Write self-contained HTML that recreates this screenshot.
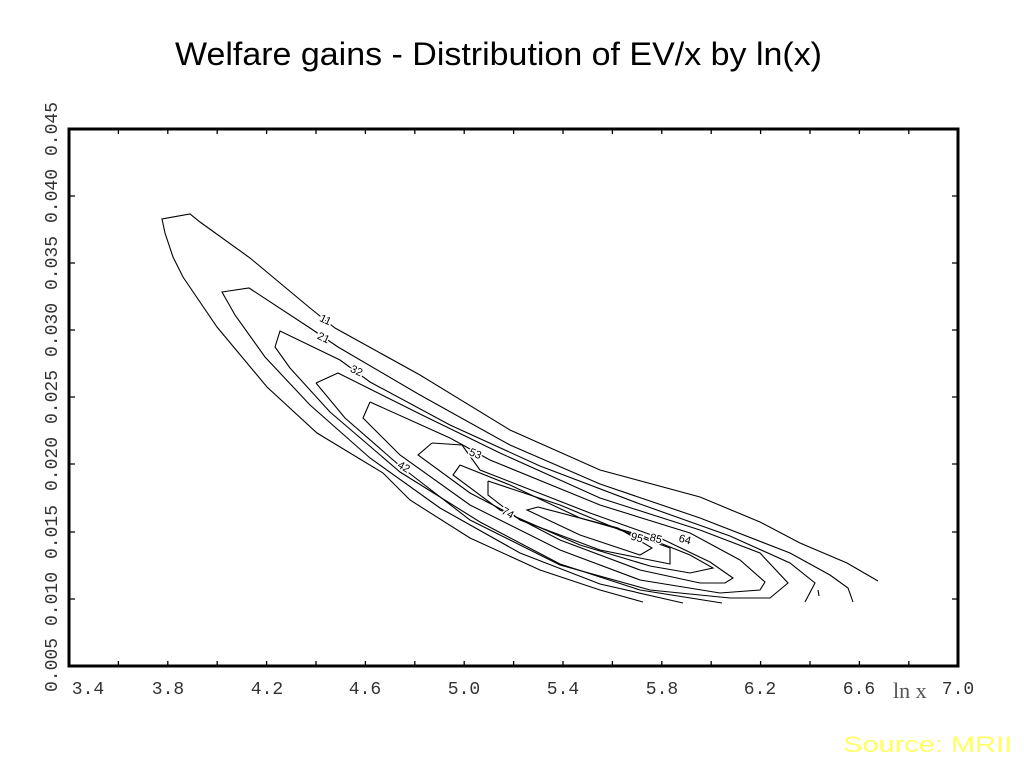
<!DOCTYPE html>
<html><head><meta charset="utf-8"><style>
html,body{margin:0;padding:0;background:#fff;width:1024px;height:768px;overflow:hidden}
</style></head><body>
<svg width="1024" height="768" xmlns="http://www.w3.org/2000/svg">
<text x="175" y="65" textLength="647" lengthAdjust="spacingAndGlyphs" font-family="Liberation Sans, sans-serif" font-size="32" fill="#000">Welfare gains - Distribution of EV/x by ln(x)</text>
<g stroke="#000" fill="none">
<rect x="69" y="129" width="889" height="537" stroke-width="3"/>
</g>
<g stroke="#000" stroke-width="1.3">
<path d="M118.4 666v-5M167.8 666v-5M217.2 666v-5M266.6 666v-5M316 666v-5M365.4 666v-5M414.8 666v-5M464.2 666v-5M513.6 666v-5M563 666v-5M612.4 666v-5M661.8 666v-5M711.2 666v-5M760.6 666v-5M810 666v-5M859.4 666v-5M908.8 666v-5"/>
<path d="M118.4 129v5M167.8 129v5M217.2 129v5M266.6 129v5M316 129v5M365.4 129v5M414.8 129v5M464.2 129v5M513.6 129v5M563 129v5M612.4 129v5M661.8 129v5M711.2 129v5M760.6 129v5M810 129v5M859.4 129v5M908.8 129v5"/>
<path d="M69 196h6M69 263h6M69 330h6M69 397h6M69 464h6M69 532h6M69 599h6"/>
<path d="M958 196h-6M958 263h-6M958 330h-6M958 397h-6M958 464h-6M958 532h-6M958 599h-6"/>
</g>
<g font-family="Liberation Mono, DejaVu Sans Mono, monospace" font-size="18" fill="#333">
<text x="88" y="694" text-anchor="middle">3.4</text>
<text x="168" y="694" text-anchor="middle">3.8</text>
<text x="267" y="694" text-anchor="middle">4.2</text>
<text x="365" y="694" text-anchor="middle">4.6</text>
<text x="464" y="694" text-anchor="middle">5.0</text>
<text x="563" y="694" text-anchor="middle">5.4</text>
<text x="662" y="694" text-anchor="middle">5.8</text>
<text x="760" y="694" text-anchor="middle">6.2</text>
<text x="859" y="694" text-anchor="middle">6.6</text>
<text x="958" y="694" text-anchor="middle">7.0</text>
<g transform="translate(57,0)">
<text transform="translate(0,666) rotate(-90)" text-anchor="start" x="-26">0.005</text>
<text transform="translate(0,599) rotate(-90)" text-anchor="middle">0.010</text>
<text transform="translate(0,532) rotate(-90)" text-anchor="middle">0.015</text>
<text transform="translate(0,464) rotate(-90)" text-anchor="middle">0.020</text>
<text transform="translate(0,397) rotate(-90)" text-anchor="middle">0.025</text>
<text transform="translate(0,330) rotate(-90)" text-anchor="middle">0.030</text>
<text transform="translate(0,263) rotate(-90)" text-anchor="middle">0.035</text>
<text transform="translate(0,196) rotate(-90)" text-anchor="middle">0.040</text>
<text transform="translate(0,129) rotate(-90)" text-anchor="middle">0.045</text>
</g>
</g>
<g stroke="#000" stroke-width="1.1" fill="none">
<polyline points="643,602 600,590 540,570 470,538 410,500 383,473 317,433 267,387 217,327 183,277 173,257 165,233 162,219 190,214 200,222 250,258 310,308 335,328 420,375 510,430 600,470 700,497 760,522 800,543 847,563 878,581"/>
<polyline points="683,603 600,584 520,553 440,508 370,458 310,405 265,357 235,315 222,292 249,288 310,328 338,347 420,395 510,445 600,484 700,518 790,553 830,575 848,588 853,602"/>
<polyline points="722,603 640,590 560,564 480,522 400,472 330,412 290,368 275,347 280,331 340,360 370,382 450,425 540,466 640,504 730,536 790,563 815,583 805,602"/>
<polyline points="316,383 338,373 420,414 500,453 600,498 700,530 760,553 788,583 770,598 730,598 650,590 560,565 470,520 400,466 345,418 316,383"/>
<polyline points="370,402 363,418 400,455 470,505 560,550 640,580 720,593 760,590 765,582 740,560 690,533 600,505 490,460 450,438 370,402"/>
<polyline points="432,443 418,455 470,493 560,540 640,570 700,583 725,583 733,578 710,562 660,538 590,513 480,470 462,445 432,443"/>
<polyline points="460,465 453,475 500,510 580,545 650,566 690,573 713,568 690,555 640,535 580,518 510,485 460,465"/>
<polyline points="488,481 488,495 520,520 600,550 650,560 670,564 670,548 620,530 560,505 488,481"/>
<polyline points="538,507 527,510 580,535 640,555 652,548 618,528 538,507"/>
<polyline points="818,590 819,596"/>
</g>
<g font-family="Liberation Sans, sans-serif" font-size="11" fill="#000" stroke="#fff" stroke-width="3" paint-order="stroke">
<text transform="translate(324,323) rotate(25)" text-anchor="middle">11</text>
<text transform="translate(322,341) rotate(25)" text-anchor="middle">21</text>
<text transform="translate(355,374) rotate(25)" text-anchor="middle">32</text>
<text transform="translate(402,470) rotate(30)" text-anchor="middle">42</text>
<text transform="translate(474,457) rotate(22)" text-anchor="middle">53</text>
<text transform="translate(506,516) rotate(30)" text-anchor="middle">74</text>
<text transform="translate(636,541) rotate(15)" text-anchor="middle">95</text>
<text transform="translate(655,542) rotate(15)" text-anchor="middle">85</text>
<text transform="translate(684,543) rotate(15)" text-anchor="middle">64</text>
</g>
<text x="893" y="698" font-family="Liberation Serif, serif" font-size="22" fill="#555">ln x</text>
<text x="843" y="752" textLength="169" lengthAdjust="spacingAndGlyphs" font-family="Liberation Sans, sans-serif" font-size="22" fill="#ffff66">Source: MRII</text>
</svg>
</body></html>
